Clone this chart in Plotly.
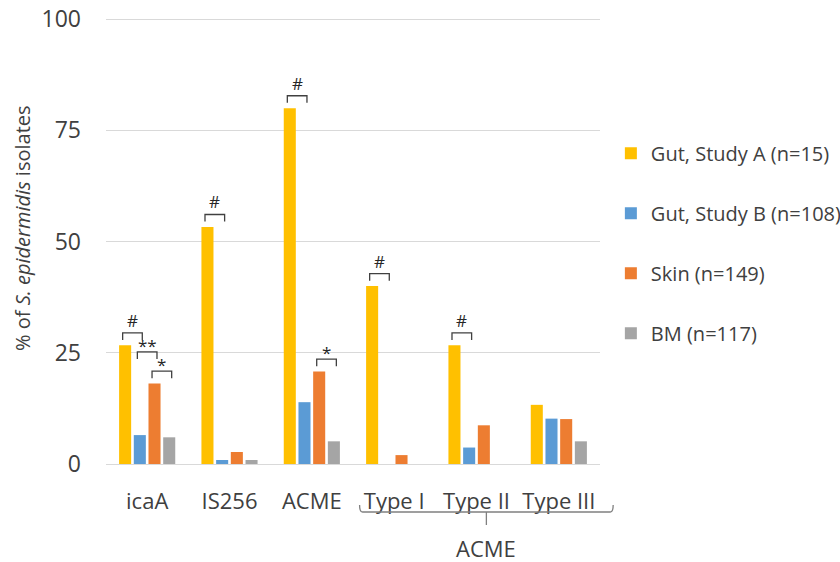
import plotly.graph_objects as go

# Gene / element categories on the x axis
categories = ["icaA", "IS256", "ACME", "Type I", "Type II", "Type III"]

# Percentage of isolates carrying each element, per source cohort
gut_a = [26.7, 53.3, 80.0, 40.0, 26.7, 13.3]
gut_b = [6.5, 0.9, 13.9, 0.0, 3.7, 10.2]
skin = [18.1, 2.7, 20.8, 2.0, 8.7, 10.1]
bm = [6.0, 0.9, 5.1, 0.0, 0.0, 5.1]

series_names = [
    "Gut, Study A (n=15)",
    "Gut, Study B (n=108)",
    "Skin (n=149)",
    "BM (n=117)",
]
series_values = [gut_a, gut_b, skin, bm]
series_colors = ["#FFC000", "#5B9BD5", "#ED7D31", "#A5A5A5"]

y_ticks = [0, 25, 50, 75, 100]

# Significance marks: (category, left series, right series, label, stack level)
sig_marks = [
    ("icaA", 0, 1, "#", 0),
    ("icaA", 1, 2, "**", 1),
    ("icaA", 2, 3, "*", 0),
    ("IS256", 0, 1, "#", 0),
    ("ACME", 0, 1, "#", 0),
    ("ACME", 2, 3, "*", 0),
    ("Type I", 0, 1, "#", 0),
    ("Type II", 0, 1, "#", 0),
]

FONT = "'Open Sans', Lato, sans-serif"
TEXT = "#404040"
BARGAP = 0.286
BARGROUPGAP = 0.18
n_series = len(series_values)
slot = (1 - BARGAP) / n_series

# label glyph styling for the significance marks
mark_size = {"#": 17, "*": 17, "**": 17}
mark_shift = {"#": -1, "*": -7, "**": -7}

fig = go.Figure()
for name, vals, col in zip(series_names, series_values, series_colors):
    fig.add_trace(go.Bar(
        x=categories, y=vals, name=name, legendgroup=name,
        marker=dict(color=col, line=dict(width=0)),
    ))


def bar_center(cat, k):
    return categories.index(cat) + (k - (n_series - 1) / 2) * slot


shapes = []
annotations = []
for cat, a, b, label, level in sig_marks:
    gi = categories.index(cat)
    top = max(series_values[a][gi], series_values[b][gi]) + 2.8 + level * 4.3
    x0 = bar_center(cat, a) - 0.03
    x1 = bar_center(cat, b) + 0.03
    leg = 1.6
    shapes.append(dict(
        type="path", xref="x", yref="y",
        path=f"M{x0},{top - leg} L{x0},{top} L{x1},{top} L{x1},{top - leg}",
        line=dict(color="#404040", width=1.3),
    ))
    annotations.append(dict(
        x=(x0 + x1) / 2, y=top, xref="x", yref="y", text=label,
        showarrow=False, xanchor="center", yanchor="bottom",
        yshift=mark_shift[label],
        font=dict(family=FONT, size=mark_size[label], color="#262626"),
    ))


# Brace grouping the ACME types under the axis (paper coordinates)
def to_paper(idx):
    return (idx + 0.5) / len(categories)


Y_TOP = 100.5  # a little headroom so the 100 gridline is kept
PLOT_H = 447


def px_to_paper_y(dy):
    # dy: pixels above (+) or below (-) the x axis line
    return dy / PLOT_H


bx0 = to_paper(categories.index("Type I") - 0.42)
bx1 = to_paper(categories.index("Type III") + 0.66)
bxc = (bx0 + bx1) / 2
y_line, y_hook, y_tick = px_to_paper_y(-48), px_to_paper_y(-41), px_to_paper_y(-61)
hx = 0.006
shapes.append(dict(
    type="path", xref="paper", yref="paper",
    path=(f"M{bx0},{y_hook} Q{bx0},{y_line} {bx0 + hx},{y_line} "
          f"L{bx1 - hx},{y_line} Q{bx1},{y_line} {bx1},{y_hook} "
          f"M{bxc},{y_line} L{bxc},{y_tick}"),
    line=dict(color="#808080", width=1.3),
))
annotations.append(dict(
    x=bxc, y=px_to_paper_y(-84), xref="paper", yref="paper", text="ACME",
    showarrow=False, xanchor="center", yanchor="middle",
    font=dict(family=FONT, size=22, color=TEXT),
))

# Y axis title
annotations.append(dict(
    x=-84 / 494, y=px_to_paper_y(236), xref="paper", yref="paper",
    text="% of <i>S. epidermidis</i> isolates", textangle=-90,
    showarrow=False, xanchor="center", yanchor="middle",
    font=dict(family=FONT, size=20, color=TEXT),
))

fig.update_layout(
    width=840, height=562,
    margin=dict(l=106, r=240, t=562 - 98 - PLOT_H, b=98, autoexpand=False),
    paper_bgcolor="white", plot_bgcolor="white",
    barmode="group", bargap=BARGAP, bargroupgap=BARGROUPGAP,
    font=dict(family=FONT, color=TEXT),
    shapes=shapes, annotations=annotations,
    legend=dict(
        x=1.022, y=0.739, xanchor="left", yanchor="top",
        font=dict(family=FONT, size=20, color=TEXT),
        tracegroupgap=31, itemwidth=30,
        bgcolor="rgba(0,0,0,0)",
    ),
)
fig.update_xaxes(
    type="category", range=[-0.5, len(categories) - 0.5],
    showgrid=False, showline=True, linecolor="#D9D9D9", linewidth=1,
    ticks="", ticklabelstandoff=18, automargin=False,
    tickfont=dict(family=FONT, size=22, color=TEXT),
)
fig.update_yaxes(
    range=[0, Y_TOP], tickvals=y_ticks,
    showgrid=True, gridcolor="#D9D9D9", gridwidth=1,
    zeroline=False, showline=False, ticks="",
    ticklabelstandoff=24, automargin=False,
    tickfont=dict(family=FONT, size=23, color=TEXT),
)

fig.write_html("out.html")
